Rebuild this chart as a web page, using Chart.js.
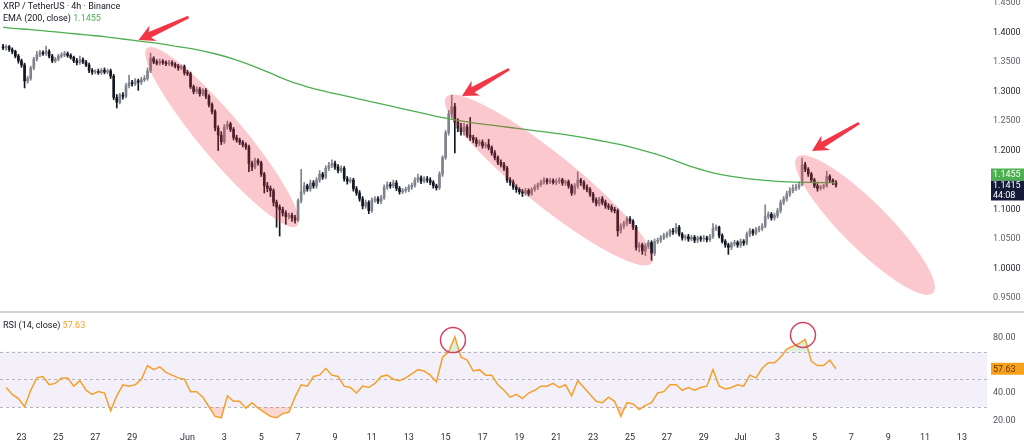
<!DOCTYPE html>
<html>
<head>
<meta charset="utf-8">
<script src="https://cdn.jsdelivr.net/npm/chart.js@4.4.1/dist/chart.umd.min.js"></script>
<style>
html, body { margin: 0; padding: 0; background: #fff; }
body { width: 1024px; height: 443px; position: relative; overflow: hidden; font-family: Roboto, "Noto Sans", sans-serif; }
canvas { position: absolute; left: 0; }
#price { top: 0; }
#rsi { top: 313px; }
.sep { position: absolute; left: 0; top: 311px; width: 1024px; height: 2px; background: #d1d4dc; }
.legend { position: absolute; left: 3px; font-size: 9px; color: #131722; line-height: 12px; white-space: nowrap; }
</style>
</head>
<body>
<canvas id="price" width="1024" height="311"></canvas>
<div class="sep"></div>
<canvas id="rsi" width="1024" height="130"></canvas>
<div class="legend" style="top:0">XRP / TetherUS · 4h · Binance<br>EMA (200, close) <span style="color:#4caf50">1.1455</span></div>
<div class="legend" style="top:319px">RSI (14, close) <span style="color:#f5a02a">57.63</span></div>
<script>
// time axis: day 1 = Jun 1, day 31 = Jul 1 (May 22 = -9)
const firstCandleDay = -9;
const candleHours = 4;

const tickDays = [-8, -6, -4, -2, 1, 3, 5, 7, 9, 11, 13, 15, 17, 19, 21, 23, 25, 27, 29, 31, 33, 35, 37, 39, 41, 43];
const tickLabels = ['23', '25', '27', '29', 'Jun', '3', '5', '7', '9', '11', '13', '15', '17', '19', '21', '23', '25', '27', '29', 'Jul', '3', '5', '7', '9', '11', '13'];
const priceTicks = [0.95, 1.0, 1.05, 1.1, 1.15, 1.2, 1.25, 1.3, 1.35, 1.4, 1.45];
const rsiTicks = [20, 40, 80];

// 4h candles, one day per line
const opens = [
  1.376,1.374,1.376,1.371,1.368,1.360,
  1.352,1.345,1.318,1.322,1.340,1.355,
  1.362,1.366,1.364,1.368,1.360,1.352,
  1.355,1.360,1.362,1.364,1.361,1.358,
  1.352,1.349,1.354,1.350,1.345,1.336,
  1.333,1.334,1.332,1.336,1.333,1.335,
  1.326,1.290,1.282,1.294,1.292,1.310,
  1.315,1.313,1.318,1.316,1.320,1.322,
  1.335,1.356,1.350,1.348,1.351,1.349,
  1.347,1.349,1.346,1.343,1.340,1.342,
  1.332,1.330,1.308,1.300,1.304,1.296,
  1.302,1.292,1.278,1.266,1.238,1.226,
  1.215,1.240,1.245,1.236,1.222,1.218,
  1.214,1.210,1.206,1.178,1.172,1.183,
  1.179,1.160,1.140,1.136,1.132,1.112,
  1.104,1.100,1.094,1.088,1.090,1.086,
  1.082,1.115,1.130,1.140,1.135,1.145,
  1.140,1.150,1.160,1.155,1.170,1.175,
  1.178,1.172,1.166,1.170,1.152,1.148,
  1.150,1.135,1.128,1.118,1.106,1.112,
  1.098,1.116,1.118,1.114,1.120,1.138,
  1.142,1.140,1.145,1.136,1.130,1.132,
  1.134,1.138,1.141,1.150,1.154,1.148,
  1.152,1.150,1.146,1.140,1.137,1.160,
  1.188,1.230,1.262,1.274,1.248,1.238,
  1.232,1.240,1.226,1.222,1.218,1.212,
  1.214,1.208,1.210,1.205,1.196,1.188,
  1.180,1.176,1.170,1.150,1.146,1.138,
  1.134,1.130,1.128,1.132,1.127,1.134,
  1.138,1.142,1.146,1.150,1.147,1.149,
  1.146,1.148,1.150,1.145,1.147,1.140,
  1.128,1.140,1.150,1.146,1.138,1.134,
  1.126,1.116,1.110,1.118,1.112,1.106,
  1.104,1.100,1.098,1.064,1.072,1.076,
  1.084,1.080,1.070,1.036,1.040,1.030,
  1.038,1.044,1.026,1.046,1.048,1.052,
  1.056,1.058,1.064,1.062,1.070,1.058,
  1.052,1.054,1.050,1.053,1.048,1.052,
  1.050,1.052,1.049,1.054,1.068,1.070,
  1.056,1.046,1.040,1.036,1.042,1.044,
  1.040,1.046,1.043,1.058,1.064,1.060,
  1.066,1.068,1.072,1.088,1.092,1.086,
  1.090,1.098,1.112,1.118,1.126,1.132,
  1.136,1.138,1.142,1.176,1.168,1.160,
  1.150,1.140,1.136,1.138,1.140,1.156,
  1.150,1.146
];
const highs = [
  1.380,1.379,1.378,1.374,1.370,1.363,
  1.355,1.348,1.326,1.343,1.358,1.368,
  1.370,1.369,1.377,1.371,1.363,1.358,
  1.363,1.366,1.368,1.367,1.364,1.360,
  1.356,1.360,1.357,1.353,1.348,1.339,
  1.337,1.338,1.339,1.340,1.338,1.338,
  1.329,1.295,1.297,1.298,1.314,1.328,
  1.319,1.322,1.321,1.324,1.327,1.340,
  1.365,1.359,1.354,1.355,1.354,1.352,
  1.353,1.352,1.349,1.346,1.345,1.345,
  1.336,1.333,1.311,1.308,1.307,1.305,
  1.305,1.295,1.281,1.269,1.242,1.232,
  1.244,1.250,1.248,1.239,1.226,1.221,
  1.217,1.213,1.209,1.182,1.187,1.186,
  1.182,1.163,1.146,1.140,1.135,1.116,
  1.108,1.104,1.098,1.094,1.094,1.090,
  1.118,1.168,1.146,1.143,1.150,1.149,
  1.154,1.166,1.163,1.174,1.180,1.184,
  1.182,1.176,1.174,1.173,1.156,1.154,
  1.153,1.139,1.132,1.122,1.116,1.115,
  1.120,1.122,1.122,1.124,1.142,1.147,
  1.146,1.150,1.149,1.139,1.136,1.138,
  1.142,1.145,1.154,1.160,1.157,1.156,
  1.156,1.154,1.149,1.143,1.164,1.191,
  1.234,1.268,1.294,1.280,1.254,1.246,
  1.246,1.244,1.256,1.226,1.222,1.218,
  1.218,1.214,1.219,1.208,1.200,1.191,
  1.184,1.180,1.173,1.154,1.150,1.142,
  1.137,1.134,1.136,1.135,1.137,1.142,
  1.145,1.150,1.154,1.153,1.153,1.152,
  1.152,1.154,1.153,1.150,1.150,1.143,
  1.144,1.164,1.153,1.149,1.142,1.137,
  1.129,1.120,1.121,1.122,1.116,1.110,
  1.108,1.104,1.101,1.076,1.080,1.088,
  1.088,1.083,1.073,1.044,1.043,1.042,
  1.048,1.047,1.050,1.052,1.056,1.060,
  1.062,1.067,1.068,1.076,1.073,1.061,
  1.057,1.058,1.056,1.056,1.055,1.055,
  1.056,1.055,1.058,1.076,1.074,1.072,
  1.059,1.049,1.043,1.045,1.048,1.047,
  1.050,1.049,1.062,1.068,1.067,1.070,
  1.072,1.076,1.108,1.096,1.095,1.094,
  1.102,1.116,1.122,1.131,1.137,1.142,
  1.143,1.147,1.187,1.180,1.171,1.163,
  1.153,1.144,1.141,1.143,1.165,1.159,
  1.152,1.149
];
const lows = [
  1.371,1.370,1.368,1.364,1.357,1.348,
  1.341,1.306,1.314,1.319,1.337,1.352,
  1.359,1.361,1.361,1.357,1.349,1.349,
  1.352,1.357,1.359,1.358,1.355,1.349,
  1.345,1.346,1.347,1.342,1.332,1.329,
  1.330,1.329,1.329,1.330,1.330,1.322,
  1.286,1.272,1.279,1.287,1.289,1.306,
  1.309,1.310,1.302,1.312,1.317,1.319,
  1.332,1.347,1.345,1.345,1.346,1.344,
  1.344,1.343,1.340,1.336,1.337,1.328,
  1.327,1.305,1.296,1.297,1.292,1.293,
  1.288,1.274,1.262,1.233,1.200,1.210,
  1.212,1.236,1.232,1.218,1.214,1.210,
  1.206,1.202,1.164,1.166,1.169,1.175,
  1.156,1.128,1.130,1.122,1.106,1.070,
  1.055,1.089,1.075,1.084,1.080,1.077,
  1.080,1.111,1.126,1.131,1.131,1.136,
  1.136,1.146,1.151,1.152,1.166,1.171,
  1.168,1.162,1.163,1.148,1.143,1.145,
  1.131,1.124,1.114,1.101,1.102,1.093,
  1.095,1.112,1.110,1.110,1.117,1.134,
  1.136,1.137,1.132,1.126,1.127,1.129,
  1.130,1.134,1.138,1.146,1.144,1.145,
  1.146,1.142,1.136,1.133,1.134,1.156,
  1.185,1.226,1.255,1.196,1.232,1.226,
  1.226,1.222,1.217,1.213,1.207,1.208,
  1.204,1.204,1.201,1.192,1.184,1.176,
  1.172,1.166,1.146,1.141,1.134,1.129,
  1.126,1.122,1.124,1.123,1.124,1.131,
  1.134,1.139,1.143,1.143,1.144,1.143,
  1.142,1.144,1.141,1.141,1.136,1.124,
  1.125,1.136,1.141,1.134,1.130,1.122,
  1.112,1.106,1.106,1.108,1.102,1.100,
  1.096,1.094,1.055,1.060,1.068,1.072,
  1.076,1.066,1.031,1.028,1.024,1.022,
  1.034,1.014,1.022,1.042,1.044,1.049,
  1.052,1.054,1.058,1.059,1.055,1.048,
  1.048,1.046,1.047,1.044,1.044,1.046,
  1.046,1.045,1.046,1.051,1.064,1.052,
  1.043,1.036,1.024,1.032,1.038,1.036,
  1.036,1.039,1.040,1.054,1.056,1.057,
  1.062,1.064,1.069,1.084,1.082,1.082,
  1.086,1.094,1.108,1.114,1.122,1.128,
  1.132,1.134,1.140,1.164,1.156,1.146,
  1.137,1.131,1.133,1.135,1.138,1.146,
  1.142,1.138
];
const closes = [
  1.374,1.376,1.371,1.368,1.360,1.352,
  1.345,1.318,1.322,1.340,1.355,1.362,
  1.366,1.364,1.368,1.360,1.352,1.355,
  1.360,1.362,1.364,1.361,1.358,1.352,
  1.349,1.354,1.350,1.345,1.336,1.333,
  1.334,1.332,1.336,1.333,1.335,1.326,
  1.290,1.282,1.294,1.292,1.310,1.315,
  1.313,1.318,1.316,1.320,1.322,1.335,
  1.356,1.350,1.348,1.351,1.349,1.347,
  1.349,1.346,1.343,1.340,1.342,1.332,
  1.330,1.308,1.300,1.304,1.296,1.302,
  1.292,1.278,1.266,1.238,1.226,1.215,
  1.240,1.245,1.236,1.222,1.218,1.214,
  1.210,1.206,1.178,1.172,1.183,1.179,
  1.160,1.140,1.136,1.132,1.112,1.104,
  1.100,1.094,1.088,1.090,1.086,1.082,
  1.115,1.130,1.140,1.135,1.145,1.140,
  1.150,1.160,1.155,1.170,1.175,1.178,
  1.172,1.166,1.170,1.152,1.148,1.150,
  1.135,1.128,1.118,1.106,1.112,1.098,
  1.116,1.118,1.114,1.120,1.138,1.142,
  1.140,1.145,1.136,1.130,1.132,1.134,
  1.138,1.141,1.150,1.154,1.148,1.152,
  1.150,1.146,1.140,1.137,1.160,1.188,
  1.230,1.262,1.274,1.248,1.238,1.232,
  1.240,1.226,1.222,1.218,1.212,1.214,
  1.208,1.210,1.205,1.196,1.188,1.180,
  1.176,1.170,1.150,1.146,1.138,1.134,
  1.130,1.128,1.132,1.127,1.134,1.138,
  1.142,1.146,1.150,1.147,1.149,1.146,
  1.148,1.150,1.145,1.147,1.140,1.128,
  1.140,1.150,1.146,1.138,1.134,1.126,
  1.116,1.110,1.118,1.112,1.106,1.104,
  1.100,1.098,1.064,1.072,1.076,1.084,
  1.080,1.070,1.036,1.040,1.030,1.038,
  1.044,1.026,1.046,1.048,1.052,1.056,
  1.058,1.064,1.062,1.070,1.058,1.052,
  1.054,1.050,1.053,1.048,1.052,1.050,
  1.052,1.049,1.054,1.068,1.070,1.056,
  1.046,1.040,1.036,1.042,1.044,1.040,
  1.046,1.043,1.058,1.064,1.060,1.066,
  1.068,1.072,1.088,1.092,1.086,1.090,
  1.098,1.112,1.118,1.126,1.132,1.136,
  1.138,1.142,1.176,1.168,1.160,1.150,
  1.140,1.136,1.138,1.140,1.156,1.150,
  1.146,1.1415
];

// EMA 200, sampled about once a day
const emaDays = [-9, -8.5, -7.5, -6.5, -5.5, -4.5, -3.5, -2.5, -1.5, -0.5, 0.5, 1.5, 2.5, 3.5, 4.5, 5.5, 6.5, 7.5, 8.5, 9.5,
  10.5, 11.5, 12.5, 13.5, 14.5, 15.5, 16.5, 17.5, 18.5, 19.5, 20.5, 21.5, 22.5, 23.5, 24.5, 25.5, 26.5, 27.5, 28.5, 29.5,
  30.5, 31.5, 32.5, 33.5, 34.5, 35.5, 36.17];
const emaValues = [1.409, 1.407, 1.405, 1.402, 1.399, 1.396, 1.393, 1.389, 1.385, 1.381, 1.376, 1.371, 1.364, 1.355, 1.344, 1.331, 1.318, 1.308, 1.300, 1.293,
  1.286, 1.279, 1.272, 1.265, 1.258, 1.252, 1.247, 1.243, 1.239, 1.235, 1.231, 1.227, 1.222, 1.216, 1.210, 1.202, 1.193, 1.182, 1.171, 1.162,
  1.156, 1.152, 1.149, 1.147, 1.146, 1.1457, 1.1455];

// RSI 14, one value every second candle
const rsiValues = [44,39,36,30,42,51,52,46,47,51, 51,45,49,42,39,41,40,27,38,46,
  45,46,50,60,57,59,55,53,51,50, 41,41,37,30,23,22,38,34,34,29,
  33,29,26,23,22,25,26,37,46,45, 52,53,58,53,52,45,44,40,45,44,
  47,52,53,50,49,51,54,57,56,53, 48,66,70,81,66,64,56,57,53,53,
  46,42,37,39,36,40,42,45,45,47, 44,46,38,49,44,39,34,33,37,34,
  23,33,32,28,31,33,40,41,46,46, 42,44,42,44,45,57,45,43,44,46,
  45,53,51,58,62,62,66,72,74,76, 79,63,60,60,64,57.63];

const lastEma = 1.1455;
const countdown = '44:08';

// drawings, in [day, value]
const ellipses = [
  { from: [-1.19, 1.3737], to: [6.94, 1.0720], half: 22 },
  { from: [15.02, 1.2907], to: [26.19, 1.0093], half: 26 },
  { from: [34.06, 1.1890], to: [41.43, 0.9585], half: 23 }
];
const arrows = [
  { tail: [1.06, 1.4263], tip: [-1.65, 1.3873] },
  { tail: [18.44, 1.3381], tip: [15.89, 1.2924] },
  { tail: [37.42, 1.2466], tip: [34.87, 1.1992] }
];
const rsiCircles = [[15.40, 78.5], [34.38, 82.2]];

const xMin = -9.166, xMax = 44.36;
const upColor = '#80838d', downColor = '#131722';

Chart.defaults.font.family = 'Roboto, "Noto Sans", sans-serif';
Chart.defaults.font.size = 9;
Chart.defaults.animation = false;

const candleDay = i => firstCandleDay + i * candleHours / 24;
const candleColor = c => closes[c.dataIndex] >= opens[c.dataIndex] ? upColor : downColor;

const fixAxisWidth = s => { s.width = 37; s.paddingTop = 0; s.paddingBottom = 0; };

const priceDrawings = {
  id: 'priceDrawings',
  afterDatasetsDraw(chart) {
    const { ctx, scales: { x, y } } = chart;
    ctx.save();
    ellipses.forEach(e => {
      const x1 = x.getPixelForValue(e.from[0]), y1 = y.getPixelForValue(e.from[1]);
      const x2 = x.getPixelForValue(e.to[0]), y2 = y.getPixelForValue(e.to[1]);
      ctx.beginPath();
      ctx.ellipse((x1 + x2) / 2, (y1 + y2) / 2, Math.hypot(x2 - x1, y2 - y1) / 2, e.half, Math.atan2(y2 - y1, x2 - x1), 0, Math.PI * 2);
      ctx.fillStyle = 'rgba(242, 54, 69, 0.27)';
      ctx.fill();
    });
    arrows.forEach(a => {
      const tx = x.getPixelForValue(a.tail[0]), ty = y.getPixelForValue(a.tail[1]);
      const hx = x.getPixelForValue(a.tip[0]), hy = y.getPixelForValue(a.tip[1]);
      const len = Math.hypot(tx - hx, ty - hy);
      ctx.save();
      ctx.translate(hx, hy);
      ctx.rotate(Math.atan2(ty - hy, tx - hx));
      ctx.beginPath();
      ctx.moveTo(0, 0);
      ctx.lineTo(16, 8.5);
      ctx.lineTo(12.5, 3);
      ctx.lineTo(len, 1.3);
      ctx.lineTo(len, -1.3);
      ctx.lineTo(12.5, -3);
      ctx.lineTo(16, -8.5);
      ctx.closePath();
      ctx.fillStyle = '#f23645';
      ctx.fill();
      ctx.restore();
    });
    ctx.restore();
  },
  afterDraw(chart) {
    const { ctx, scales: { y }, chartArea } = chart;
    const left = chartArea.right + 4, w = chart.width - left;
    const cy = Math.round(y.getPixelForValue(closes[closes.length - 1]));
    ctx.save();
    ctx.fillStyle = '#131b38';
    ctx.fillRect(left, cy - 4.5, w, 20);
    ctx.fillStyle = '#4caf50';
    ctx.fillRect(left, cy - 16.5, w, 12);
    ctx.fillStyle = '#fff';
    ctx.textAlign = 'left';
    ctx.textBaseline = 'middle';
    ctx.font = '9px Roboto';
    ctx.fillText(lastEma.toFixed(4), left + 2, cy - 10.5);
    ctx.fillText(closes[closes.length - 1].toFixed(4), left + 2, cy + 1);
    ctx.fillText(countdown, left + 2, cy + 10.5);
    ctx.restore();
  }
};

new Chart(document.getElementById('price'), {
  type: 'bar',
  data: {
    datasets: [
      {
        type: 'line',
        data: emaDays.map((d, i) => ({ x: d, y: emaValues[i] })),
        borderColor: '#4caf50',
        borderWidth: 1.3,
        pointRadius: 0,
        tension: 0.4,
        order: 0
      },
      {
        data: closes.map((c, i) => ({ x: candleDay(i), y: [Math.min(opens[i], c), Math.max(opens[i], c)] })),
        backgroundColor: candleColor,
        barThickness: 2,
        minBarLength: 1,
        grouped: false,
        order: 1
      },
      {
        data: highs.map((h, i) => ({ x: candleDay(i), y: [lows[i], h] })),
        backgroundColor: candleColor,
        barThickness: 1,
        grouped: false,
        order: 2
      }
    ]
  },
  options: {
    responsive: false,
    events: [],
    layout: { padding: 0 },
    plugins: { legend: { display: false }, tooltip: { enabled: false } },
    scales: {
      x: { type: 'linear', min: xMin, max: xMax, offset: false, display: false },
      y: {
        position: 'right',
        min: 0.928,
        max: 1.4551,
        grid: { display: false, drawTicks: false },
        border: { display: false },
        afterBuildTicks: s => { s.ticks = priceTicks.map(v => ({ value: v })); },
        afterFit: fixAxisWidth,
        ticks: {
          padding: 6,
          callback: v => v.toFixed(4),
          color: c => (Math.round(c.tick.value * 100) % 10 === 0 ? '#1e222d' : '#60636e')
        }
      }
    }
  },
  plugins: [priceDrawings]
});

const rsiDecor = {
  id: 'rsiDecor',
  beforeDatasetsDraw(chart) {
    const { ctx, scales: { y }, chartArea } = chart;
    const y70 = y.getPixelForValue(70), y30 = y.getPixelForValue(30);
    ctx.save();
    ctx.fillStyle = 'rgba(126, 87, 194, 0.09)';
    ctx.fillRect(chartArea.left, y70, chartArea.right - chartArea.left, y30 - y70);
    ctx.strokeStyle = '#b2b5be';
    ctx.lineWidth = 1;
    ctx.setLineDash([3, 3]);
    [70, 50, 30].forEach(v => {
      const py = Math.round(y.getPixelForValue(v)) + 0.5;
      ctx.beginPath();
      ctx.moveTo(chartArea.left, py);
      ctx.lineTo(chartArea.right, py);
      ctx.stroke();
    });
    ctx.restore();
  },
  afterDatasetsDraw(chart) {
    const { ctx, scales: { x, y } } = chart;
    ctx.save();
    ctx.strokeStyle = '#d4445f';
    ctx.lineWidth = 1.5;
    rsiCircles.forEach(([d, v]) => {
      ctx.beginPath();
      ctx.arc(x.getPixelForValue(d), y.getPixelForValue(v), 12.5, 0, Math.PI * 2);
      ctx.stroke();
    });
    ctx.restore();
  },
  afterDraw(chart) {
    const { ctx, scales: { y }, chartArea } = chart;
    const last = rsiValues[rsiValues.length - 1];
    const left = chartArea.right + 4, cy = y.getPixelForValue(last);
    ctx.save();
    ctx.fillStyle = '#f7a21b';
    ctx.fillRect(left, cy - 6, chart.width - left, 12);
    ctx.fillStyle = '#6b3400';
    ctx.font = '9px Roboto';
    ctx.textAlign = 'left';
    ctx.textBaseline = 'middle';
    ctx.fillText(last.toFixed(2), left + 2, cy + 0.5);
    ctx.restore();
  }
};

const rsiPoints = rsiValues.map((v, k) => ({ x: candleDay(2 * k + 1), y: v }));

new Chart(document.getElementById('rsi'), {
  type: 'line',
  data: {
    datasets: [
      {
        data: rsiPoints,
        borderColor: '#f5a02a',
        borderWidth: 1.5,
        pointRadius: 0,
        tension: 0,
        fill: { target: { value: 30 }, above: 'rgba(0,0,0,0)', below: 'rgba(242, 110, 90, 0.28)' }
      },
      {
        data: rsiPoints,
        borderColor: 'rgba(0,0,0,0)',
        borderWidth: 0,
        pointRadius: 0,
        tension: 0,
        fill: { target: { value: 70 }, above: 'rgba(76, 175, 80, 0.2)', below: 'rgba(0,0,0,0)' }
      }
    ]
  },
  options: {
    responsive: false,
    events: [],
    layout: { padding: 0 },
    plugins: { legend: { display: false }, tooltip: { enabled: false } },
    scales: {
      x: {
        type: 'linear',
        min: xMin,
        max: xMax,
        offset: false,
        grid: { display: false, drawTicks: false },
        border: { display: false },
        afterBuildTicks: s => { s.ticks = tickDays.map(v => ({ value: v })); },
        afterFit: s => { s.height = 13; },
        ticks: { padding: 2, autoSkip: false, maxRotation: 0, color: '#2a2e39', callback: (v, i) => tickLabels[i] }
      },
      y: {
        position: 'right',
        min: 13.1,
        max: 98.2,
        grid: { display: false, drawTicks: false },
        border: { display: false },
        afterBuildTicks: s => { s.ticks = rsiTicks.map(v => ({ value: v })); },
        afterFit: fixAxisWidth,
        ticks: { padding: 6, color: '#50535e', callback: v => v.toFixed(2) }
      }
    }
  },
  plugins: [rsiDecor]
});
</script>
</body>
</html>
